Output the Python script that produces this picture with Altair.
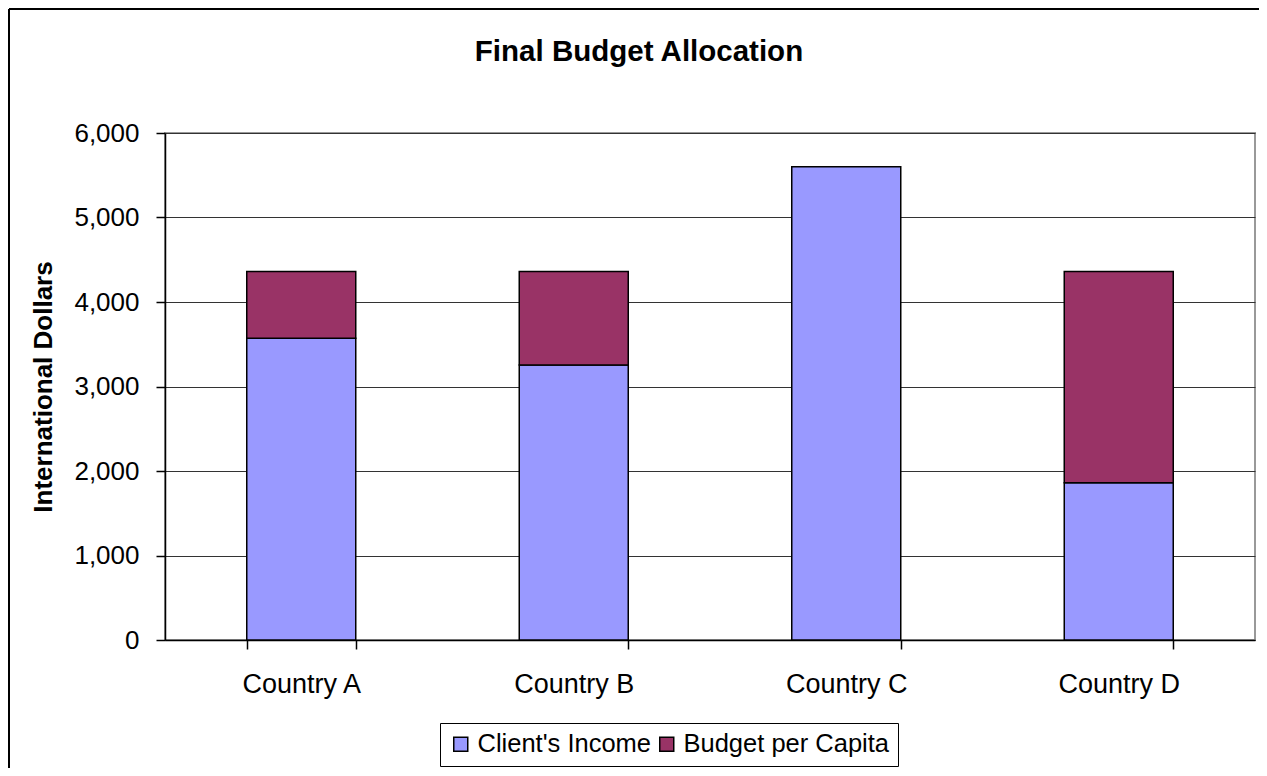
import altair as alt
import pandas as pd

countries = ["Country A", "Country B", "Country C", "Country D"]
clients_income = [3570, 3255, 5600, 1860]
budget_per_capita = [790, 1105, 0, 2500]
series = ["Client's Income", "Budget per Capita"]
colors = ["#9999FF", "#993366"]
y_ticks = [0, 1000, 2000, 3000, 4000, 5000, 6000]
chart_title = "Final Budget Allocation"

rows = []
for i, c in enumerate(countries):
    rows.append({"country": c, "series": series[0], "value": clients_income[i], "order": 0})
    rows.append({"country": c, "series": series[1], "value": budget_per_capita[i], "order": 1})
df = pd.DataFrame(rows)

W, H = 1090, 507
FONT = "Liberation Sans"

bars = alt.Chart(df).transform_filter("datum.value > 0").mark_bar(
    stroke="black", strokeWidth=1.5
).encode(
    x=alt.X(
        "country:N", sort=countries,
        scale=alt.Scale(paddingInner=0.6, paddingOuter=0.3),
        axis=alt.Axis(title=None, labelAngle=0, labelFontSize=27, labelPadding=22,
                      tickBand="extent", tickSize=9, tickColor="black", tickWidth=1.5,
                      domainColor="black", domainWidth=1.5, labelColor="black", grid=False),
    ),
    y=alt.Y(
        "value:Q", stack="zero",
        scale=alt.Scale(domain=[0, 6000], nice=False),
        axis=alt.Axis(values=y_ticks, format=",d", title="International Dollars",
                      titleFontSize=26, titleFontWeight="bold", titleX=-122, titleY=H / 2,
                      titleAngle=270, titleAlign="center", titleBaseline="middle",
                      labelFontSize=26, labelPadding=17, tickSize=9, tickColor="black",
                      tickWidth=1.5, domainColor="black", domainWidth=1.5,
                      gridColor="#333333", gridWidth=1, labelColor="black", titleColor="black"),
    ),
    color=alt.Color(
        "series:N", scale=alt.Scale(domain=series, range=colors),
        legend=alt.Legend(title=None, orient="none", legendX=275, legendY=590,
                          direction="horizontal", strokeColor="black", fillColor="white",
                          padding=8, symbolType="square", symbolSize=196,
                          symbolStrokeColor="black", symbolStrokeWidth=1.5, symbolOpacity=1,
                          labelFontSize=25.5, labelOffset=4, columnPadding=2,
                          labelColor="black", labelLimit=400),
    ),
    order=alt.Order("order:Q"),
)

frame_data = pd.DataFrame({"k": [0]})
top_border = alt.Chart(frame_data).mark_rule(color="black", strokeWidth=2).encode(
    x=alt.value(-156), x2=alt.value(W + 10), y=alt.value(-124)
)
left_border = alt.Chart(frame_data).mark_rule(color="black", strokeWidth=2).encode(
    x=alt.value(-156), y=alt.value(-124), y2=alt.value(H + 140)
)
title_text = alt.Chart(frame_data).mark_text(
    text=chart_title, fontSize=29.5, fontWeight="bold", align="center",
    baseline="alphabetic", color="black", font=FONT
).encode(x=alt.value(474), y=alt.value(-72))

chart = alt.layer(bars, top_border, left_border, title_text).properties(
    width=W, height=H,
    padding={"left": 157, "top": 125, "right": 4, "bottom": 128},
    autosize=alt.AutoSizeParams(type="none"),
).configure(
    font=FONT, background="white"
).configure_view(
    stroke="#999999", strokeWidth=2
)

chart.save("out.html", embed_options={"renderer": "svg", "actions": False})
